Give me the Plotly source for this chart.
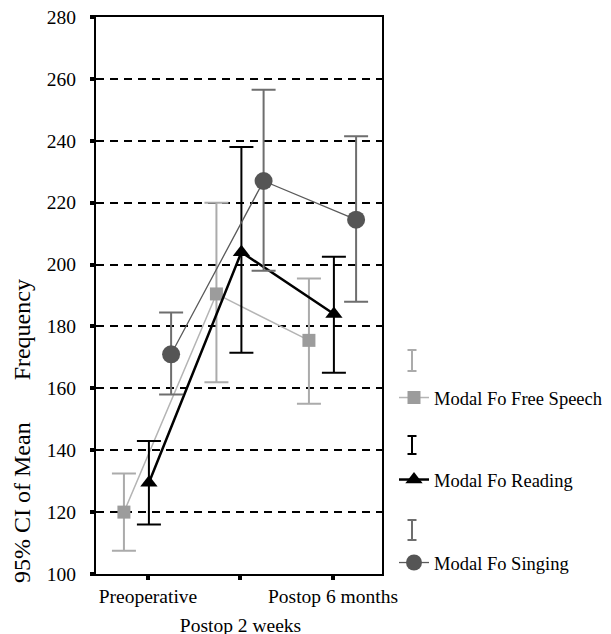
import numpy as np
import plotly.graph_objects as go

# ---------------- data ----------------
categories = ["Preoperative", "Postop 2 weeks", "Postop 6 months"]

free_mean = [120.0, 190.5, 175.5]
free_lo = [107.5, 162.0, 155.0]
free_hi = [132.5, 220.0, 195.5]

read_mean = [129.5, 204.0, 184.0]
read_lo = [116.0, 171.5, 165.0]
read_hi = [143.0, 238.0, 202.5]

sing_mean = [171.0, 227.0, 214.5]
sing_lo = [158.0, 198.0, 188.0]
sing_hi = [184.5, 256.5, 241.5]

series_names = ["Modal Fo Free Speech", "Modal Fo Reading", "Modal Fo Singing"]
y_ticks = list(range(100, 281, 20))

# ---------------- layout geometry ----------------
# the page body has an 8px default margin, so the figure is sized/offset for it
FONT = "Liberation Serif"
OFF = 8
W, H = 611 - OFF, 634 - OFF
L, T = 96 - OFF, 17 - OFF
R, B = 229, 60
PW = W - L - R
PH = H - T - B


def px(xs):
    """screen x pixel -> paper x"""
    return (xs - OFF - L) / PW


def py(ys):
    """screen y pixel -> paper y"""
    return (H - B - (ys - OFF)) / PH


base = np.arange(1, len(categories) + 1, dtype=float)

styles = [
    dict(off=-0.26, lcolor="#b4b4b4", lw=1.5, mcolor="#9c9c9c", symbol="square",
         size=13, ecolor="#ababab", legend="legend", ly=398, icon=(350, 371)),
    dict(off=0.01, lcolor="#000000", lw=2.5, mcolor="#000000", symbol="triangle-up",
         size=15, ecolor="#000000", legend="legend2", ly=480, icon=(436, 454)),
    dict(off=0.25, lcolor="#5a5a5a", lw=1.3, mcolor="#555555", symbol="circle",
         size=18, ecolor="#6e6e6e", legend="legend3", ly=563, icon=(520, 540)),
]

data = [
    (free_mean, free_lo, free_hi),
    (read_mean, read_lo, read_hi),
    (sing_mean, sing_lo, sing_hi),
]

fig = go.Figure()
for name, (m, lo, hi), st in zip(series_names, data, styles):
    m = np.array(m)
    lo = np.array(lo)
    hi = np.array(hi)
    fig.add_trace(go.Scatter(
        x=base + st["off"], y=m, name=name, mode="lines+markers",
        line=dict(color=st["lcolor"], width=st["lw"]),
        marker=dict(symbol=st["symbol"], size=st["size"], color=st["mcolor"],
                    line=dict(width=0)),
        error_y=dict(type="data", symmetric=False, array=hi - m, arrayminus=m - lo,
                     color=st["ecolor"], thickness=2, width=12),
        legend=st["legend"], showlegend=True,
    ))

# empty helper trace so the overlaid label axis is drawn
fig.add_trace(go.Scatter(x=[], y=[], xaxis="x2", yaxis="y", showlegend=False,
                         hoverinfo="skip"))

legend_common = dict(xanchor="left", yanchor="middle", xref="container", yref="container",
                     bgcolor="rgba(0,0,0,0)", borderwidth=0,
                     font=dict(family=FONT, size=18.5, color="black"))
layout_legends = {}
for st in styles:
    layout_legends[st["legend"]] = dict(x=(394 - OFF) / W, y=1 - (st["ly"] - OFF) / H,
                                        **legend_common)

# legend error-bar icons
shapes = []
for st in styles:
    y0, y1 = st["icon"]
    cx = 412
    for (xa, ya, xb, yb) in [(cx, y0, cx, y1), (cx - 4.5, y0, cx + 4.5, y0), (cx - 4.5, y1, cx + 4.5, y1)]:
        shapes.append(dict(type="line", xref="paper", yref="paper",
                           x0=px(xa), y0=py(ya), x1=px(xb), y1=py(yb),
                           line=dict(color=st["ecolor"], width=2)))

xr = [0.438, 3.53]
tickfont = dict(family=FONT, size=19.5, color="black")
fig.update_layout(
    width=W, height=H,
    margin=dict(l=L, r=R, t=T, b=B, autoexpand=False),
    paper_bgcolor="white", plot_bgcolor="white",
    font=dict(family=FONT, size=18, color="black"),
    xaxis=dict(range=xr, tickmode="array", tickvals=list(base),
               ticktext=[categories[0], "", categories[2]],
               ticks="outside", ticklen=4, tickwidth=4, tickcolor="black",
               showline=True, linewidth=2, linecolor="black", mirror=True,
               showgrid=False, zeroline=False, tickfont=tickfont,
               ticklabeloverflow="allow"),
    xaxis2=dict(range=xr, overlaying="x", anchor="y", side="bottom",
                tickmode="array", tickvals=[base[1]], ticktext=[categories[1]],
                ticks="", showline=False, showgrid=False, zeroline=False,
                ticklabelstandoff=37, tickfont=tickfont, ticklabeloverflow="allow"),
    yaxis=dict(range=[100, 280], tickmode="array", tickvals=y_ticks,
               ticks="outside", ticklen=4, tickwidth=4, tickcolor="black",
               showline=True, linewidth=2, linecolor="black", mirror=True,
               showgrid=True, gridcolor="black", gridwidth=1.5, griddash="8px,6px",
               zeroline=False, ticklabelstandoff=10, tickfont=tickfont,
               ticklabeloverflow="allow"),
    shapes=shapes,
    annotations=[dict(
        text="95% CI of Mean" + "\u00a0" * 7 + "Frequency",
        xref="paper", yref="paper", x=px(22), y=py(431),
        xanchor="center", yanchor="middle", textangle=-90, showarrow=False,
        font=dict(family=FONT, size=24, color="black"))],
    **layout_legends,
)

fig.write_html("out.html")
